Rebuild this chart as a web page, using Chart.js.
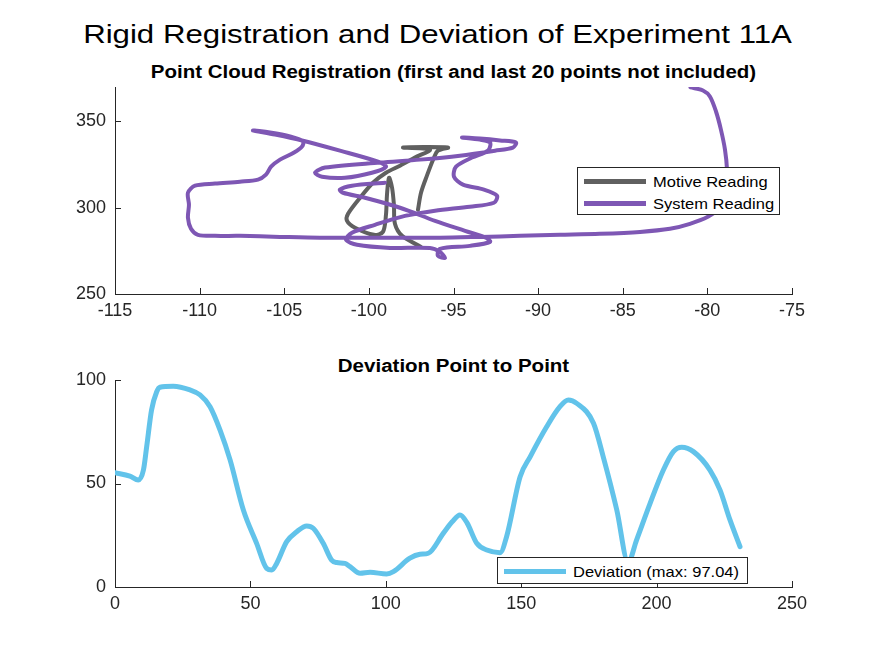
<!DOCTYPE html>
<html>
<head>
<meta charset="utf-8">
<script src="https://cdn.jsdelivr.net/npm/chart.js"></script>
<style>
  body { margin: 0; background: #fff; width: 875px; height: 656px; position: relative; overflow: hidden;
         font-family: "Liberation Sans", Arial, Helvetica, sans-serif; color: #000; }
  canvas { position: absolute; left: 0; }
  .title { position: absolute; left: 0; width: 875px; text-align: center; white-space: nowrap; line-height: 1;
           transform: scaleX(1.2); }
  .sub { position: absolute; width: 677px; left: 115px; text-align: center; white-space: nowrap; line-height: 1;
         font-weight: bold; transform: scaleX(1.14); }
  .legend { position: absolute; background: #fff; border: 1px solid #262626; box-sizing: border-box; z-index: 2; }
  .row { position: absolute; left: 6px; height: 20px; display: flex; align-items: center; font-size: 15px;
         color: #000; white-space: nowrap; }
  .swatch { width: 62px; height: 5px; margin-right: 7px; }
  .lbl { display: inline-block; transform: scaleX(1.1); transform-origin: left center; }
</style>
</head>
<body>
<div class="title" style="top:21px;font-size:26px;">Rigid Registration and Deviation of Experiment 11A</div>
<div class="sub" style="top:63px;font-size:18px;">Point Cloud Registration (first and last 20 points not included)</div>
<div class="sub" style="top:357px;font-size:18px;">Deviation Point to Point</div>
<canvas id="cloudChart" width="875" height="263" style="top:67px"></canvas>
<canvas id="devChart" width="875" height="263" style="top:360px"></canvas>

<div class="legend" style="left:577px;top:167px;width:203px;height:48px;">
  <div class="row" style="top:3px;"><div class="swatch" style="background:#606060"></div><span class="lbl">Motive Reading</span></div>
  <div class="row" style="top:25px;"><div class="swatch" style="background:#7e57b4"></div><span class="lbl">System Reading</span></div>
</div>
<div class="legend" style="left:497px;top:557px;width:251px;height:27px;">
  <div class="row" style="top:3px;"><div class="swatch" style="background:#62c3ea"></div><span class="lbl">Deviation (max: 97.04)</span></div>
</div>

<script>
// Motive (reference) reading, x / y
const motX = [-97.1, -96.92, -96.57, -96.15, -95.92, -95.33, -97.98, -96.39, -97.28, -98.16, -98.99, -99.76, -100.47,
              -101.23, -101.29, -100.82, -99.7, -99.17, -98.99, -98.93, -98.81, -98.63, -98.52, -98.46, -98.04, -96.92];
const motY = [298.8, 308.7, 318.6, 329.1, 333.1, 334.9, 334.9, 333.7, 329.1, 324.4, 320.3, 314.5, 306.4,
              296.5, 292.4, 288.4, 284.3, 286.0, 295.9, 307.6, 317.4, 311.6, 301.7, 290.7, 283.7, 277.3];

// System reading, x / y
const sysX = [-81.0, -80.26, -79.85, -79.49, -79.2, -78.96, -78.84, -78.84, -79.26, -79.97, -81.03, -82.21, -83.98, -86.35,
              -88.71, -91.07, -93.44, -95.8, -98.16, -100.53, -102.89, -105.25, -107.62, -109.09, -110.1, -110.51, -110.69,
              -110.63, -110.69, -110.27, -109.09, -107.62, -106.55, -106.08, -105.78, -105.25, -104.42, -103.95, -103.89,
              -104.66, -105.84, -106.85, -105.55, -103.95, -101.71, -99.46, -98.99, -99.82, -101.41, -102.77, -103.18,
              -102.59, -99.34, -96.98, -94.62, -92.55, -91.49, -91.31, -92.25, -93.44, -94.5, -93.44, -92.84, -92.96,
              -93.91, -94.85, -94.97, -94.44, -93.2, -92.43, -92.61, -94.03, -96.09, -97.87, -99.64, -101.0, -101.35,
              -100.7, -98.75, -96.39, -95.8, -95.5, -95.92, -95.8, -94.03, -92.84, -93.08, -94.32, -96.09, -98.16,
              -100.23, -101.53, -101.71, -101.0, -99.05];
const sysY = [369.8, 368.0, 364.5, 355.8, 345.3, 333.7, 322.1, 307.6, 300.0, 294.8, 290.7, 287.8, 286.0, 284.9,
              284.3, 283.7, 283.1, 282.6, 282.6, 282.6, 282.6, 283.1, 283.7, 283.7, 284.3, 287.8, 294.2,
              301.7, 308.7, 312.8, 314.0, 315.1, 316.3, 319.2, 323.8, 327.9, 332.0, 335.5, 338.4,
              341.3, 343.6, 344.8, 342.4, 339.0, 333.1, 326.7, 323.8, 320.3, 317.4, 318.0, 320.3,
              323.3, 326.2, 327.9, 330.2, 333.1, 334.9, 337.8, 339.0, 340.1, 340.7, 339.5, 337.8, 333.1,
              329.1, 323.8, 318.0, 313.4, 310.5, 307.0, 302.9, 300.6, 298.3, 295.3, 290.1, 285.5, 281.4,
              278.5, 276.7, 276.7, 274.4, 270.9, 272.1, 276.2, 277.9, 280.2, 282.6, 286.6, 292.4, 300.0,
              305.8, 308.7, 310.5, 312.8, 314.5];

// Deviation point to point
const devIdx = [0, 5.5, 8.6, 10.5, 11.7, 13.5, 15.4, 16.6, 21.5, 27.7, 31.4, 35.1, 38.8, 42.5, 47.4, 52.3, 56.0, 57.9,
                59.7, 63.4, 67.1, 70.8, 73.2, 76.9, 80.0, 81.9, 84.9, 86.8, 90.5, 94.2, 100.3, 102.8, 108.9, 112.6,
                115.7, 121.2, 124.5, 127.4, 130.0, 133.6, 137.3, 142.2, 144.6, 149.6, 153.3, 159.4, 164.3, 167.4,
                170.5, 176.7, 180.3, 185.3, 189.5, 192.6, 197.6, 202.5, 206.2, 209.3, 213.6, 219.7, 223.4, 227.1, 230.8];
const devVal = [55.2, 53.6, 51.7, 56.5, 67.8, 85.5, 94.3, 96.5, 97.0, 95.2, 92.8, 87.1, 75.8, 61.4, 37.2, 21.1, 9.0, 8.2,
                11.4, 21.9, 26.7, 29.5, 28.4, 21.1, 13.0, 11.8, 11.4, 9.8, 6.6, 7.1, 6.3, 7.4, 13.9, 15.8,
                16.3, 25.9, 31.5, 34.8, 31.0, 21.1, 17.9, 16.6, 24.3, 53.3, 62.9, 77.4, 87.1, 90.3,
                88.7, 79.1, 62.9, 37.2, 12.0, 22.7, 40.4, 56.5, 65.4, 67.5, 65.4, 56.5, 46.9, 32.4, 19.5];

// axis ranges: [min, max, step]
const cloudXTicks = [-115, -75, 5];
const cloudYTicks = [250, 370, 50];
const devXTicks = [0, 250, 50];
const devYTicks = [0, 100, 50];

const AXIS = '#262626';
const tickFont = { family: '"Liberation Sans", Arial, sans-serif', size: 18 };

// MATLAB style: ticks pointing into the axes
const inwardTicks = {
    id: 'inwardTicks',
    afterDraw(chart) {
        const { ctx, chartArea, scales } = chart;
        ctx.save();
        ctx.strokeStyle = AXIS;
        ctx.lineWidth = 1;
        scales.x.ticks.forEach(t => {
            const px = Math.round(scales.x.getPixelForValue(t.value)) + 0.5;
            ctx.beginPath();
            ctx.moveTo(px, chartArea.bottom);
            ctx.lineTo(px, chartArea.bottom - 6);
            ctx.stroke();
        });
        scales.y.ticks.forEach(t => {
            const py = Math.round(scales.y.getPixelForValue(t.value)) + 0.5;
            ctx.beginPath();
            ctx.moveTo(chartArea.left, py);
            ctx.lineTo(chartArea.left + 6, py);
            ctx.stroke();
        });
        ctx.restore();
    }
};

function axes(xr, yr) {
    return {
        x: {
            type: 'linear', min: xr[0], max: xr[1],
            afterFit: s => { s.height = 36; s.paddingLeft = 0; s.paddingRight = 0; },
            grid: { display: false, drawTicks: false },
            border: { color: AXIS, width: 1 },
            ticks: { stepSize: xr[2], includeBounds: false, color: AXIS, font: tickFont, padding: 6, maxRotation: 0 }
        },
        y: {
            type: 'linear', min: yr[0], max: yr[1],
            afterFit: s => { s.width = 115; s.paddingTop = 0; s.paddingBottom = 0; },
            grid: { display: false, drawTicks: false },
            border: { color: AXIS, width: 1 },
            ticks: { stepSize: yr[2], includeBounds: false, color: AXIS, font: tickFont, padding: 9 }
        }
    };
}

const common = {
    responsive: false,
    animation: false,
    devicePixelRatio: 1,
    layout: { padding: { top: 20, right: 83, left: 0, bottom: 0 } },
    plugins: { legend: { display: false }, tooltip: { enabled: false } }
};

new Chart(document.getElementById('cloudChart').getContext('2d'), {
    type: 'scatter',
    data: {
        datasets: [
            {
                label: 'System Reading',
                data: sysX.map((x, i) => ({ x: x, y: sysY[i] })),
                showLine: true, pointRadius: 0, borderColor: '#7e57b4', borderWidth: 4,
                tension: 0.3, borderJoinStyle: 'round', borderCapStyle: 'round', order: 0
            },
            {
                label: 'Motive Reading',
                data: motX.map((x, i) => ({ x: x, y: motY[i] })),
                showLine: true, pointRadius: 0, borderColor: '#606060', borderWidth: 4,
                tension: 0.3, borderJoinStyle: 'round', borderCapStyle: 'round', order: 1
            }
        ]
    },
    options: Object.assign({}, common, { scales: axes(cloudXTicks, cloudYTicks) }),
    plugins: [inwardTicks]
});

new Chart(document.getElementById('devChart').getContext('2d'), {
    type: 'scatter',
    data: {
        datasets: [{
            label: 'Deviation (max: 97.04)',
            data: devIdx.map((x, i) => ({ x: x, y: devVal[i] })),
            showLine: true, pointRadius: 0, borderColor: '#62c3ea', borderWidth: 5,
            cubicInterpolationMode: 'monotone', borderJoinStyle: 'round', borderCapStyle: 'round'
        }]
    },
    options: Object.assign({}, common, { scales: axes(devXTicks, devYTicks) }),
    plugins: [inwardTicks]
});
</script>
</body>
</html>
